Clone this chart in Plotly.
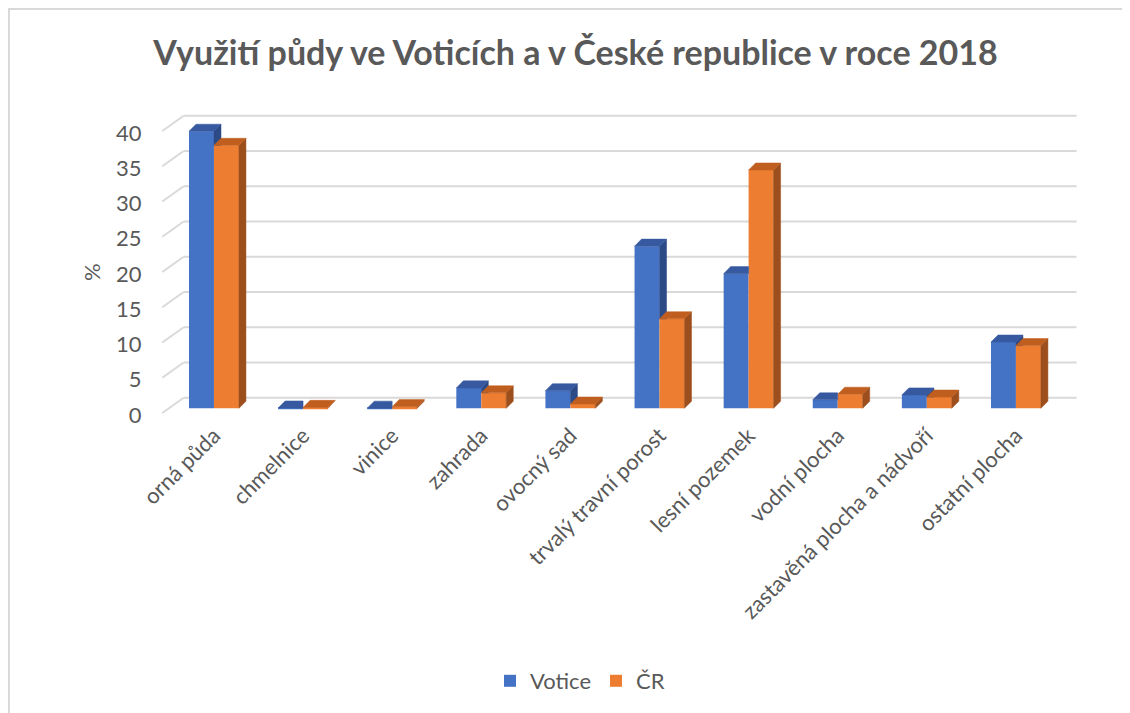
import plotly.graph_objects as go

categories = ["orná půda", "chmelnice", "vinice", "zahrada", "ovocný sad",
              "trvalý travní porost", "lesní pozemek", "vodní plocha",
              "zastavěná plocha a nádvoří", "ostatní plocha"]
votice = [39.3, 0.05, 0.02, 2.9, 2.5, 23.0, 19.1, 1.2, 1.9, 9.4]
cr = [37.3, 0.13, 0.24, 2.2, 0.6, 12.7, 33.8, 2.0, 1.6, 8.9]
series_names = ["Votice", "ČR"]
y_ticks = [0, 5, 10, 15, 20, 25, 30, 35, 40]

W, H = 1130, 713
FONT = "Lato"
TXT = "#595959"
GRID = "#D9D9D9"

# colours: front, top, side
BLUE = ("#4472C4", "#3759A0", "#2C4A86")
ORANGE = ("#ED7D31", "#C05E1F", "#9C4E1C")

# 3D projection helpers (in data units)
BAR_W = 0.28          # width of one bar (category units)
DX, DY = 0.079, 1.0   # bar depth offset
WALL_BACK = 1.5       # back-wall offset for gridlines (value units)
WALL_FRONT = -0.67    # front edge of side wall
WALL_DX_L = 0.26      # x-offset of back wall start from axis start
X0, X1 = -0.6, 9.7
Y0, Y1 = -1.3, 42.0
LABEL_SHIFT = -0.95

# pixel layout of the plotting area (figure coordinates)
PX_L, PX_R = 152.5, 1070.3
PX_B, PX_T = 409.5, 104.2

fig = go.Figure()

# front faces as bars
for name, vals, col in ((series_names[0], votice, BLUE), (series_names[1], cr, ORANGE)):
    fig.add_trace(go.Bar(x=list(range(len(categories))), y=vals, name=name,
                         marker=dict(color=col[0], line=dict(width=0)),
                         hoverinfo="skip"))


def poly(xs, ys, color):
    fig.add_trace(go.Scatter(x=xs + [xs[0]], y=ys + [ys[0]], mode="lines", fill="toself",
                             fillcolor=color, line=dict(width=0.5, color=color),
                             showlegend=False, hoverinfo="skip"))


for i, (vb, vo) in enumerate(zip(votice, cr)):
    # blue bar: x from i-BAR_W to i
    l, r = i - BAR_W, i
    if vb > vo:
        poly([r, r + DX, r + DX, r], [vo, max(vo, DY), vb + DY, vb], BLUE[2])
        poly([l, r, r + DX, l + DX], [vb, vb, vb + DY, vb + DY], BLUE[1])
    else:
        poly([l, r, r, l + DX], [vb, vb, vb + DY, vb + DY], BLUE[1])
    # orange bar: x from i to i+BAR_W
    l, r = i, i + BAR_W
    poly([r, r + DX, r + DX, r], [0, DY, vo + DY, vo], ORANGE[2])
    poly([l, r, r + DX, l + DX], [vo, vo, vo + DY, vo + DY], ORANGE[1])

# back-wall grid lines and side-wall diagonals (below the bars)
shapes = []
for v in y_ticks:
    shapes.append(dict(type="line", xref="x", yref="y", layer="below",
                       x0=X0 + 0.02, y0=v + WALL_FRONT, x1=X0 + WALL_DX_L, y1=v + WALL_BACK,
                       line=dict(color=GRID, width=2)))
    shapes.append(dict(type="line", xref="x", yref="y", layer="below",
                       x0=X0 + WALL_DX_L, y0=v + WALL_BACK, x1=X1 - 0.02, y1=v + WALL_BACK,
                       line=dict(color=GRID, width=2)))
# chart border (left and top edges are the visible ones)
shapes.append(dict(type="line", xref="paper", yref="paper", x0=1 / W, x1=1 / W,
                   y0=0, y1=1, line=dict(color=GRID, width=2), layer="below"))
shapes.append(dict(type="line", xref="paper", yref="paper", x0=0, x1=1,
                   y0=1 - 1 / H, y1=1 - 1 / H, line=dict(color=GRID, width=2), layer="below"))

fig.update_layout(
    width=W, height=H, template="none",
    paper_bgcolor="white", plot_bgcolor="rgba(0,0,0,0)",
    margin=dict(l=0, r=0, t=0, b=0, autoexpand=False),
    barmode="group", bargap=1 - 2 * BAR_W, bargroupgap=0,
    font=dict(family=FONT, color=TXT, size=22),
    title=dict(text="<b>Využití půdy ve Voticích a v České republice v roce 2018</b>",
               x=567.5 / W, y=1 - 45 / H, xanchor="center", yanchor="middle",
               xref="paper", yref="paper",
               font=dict(family=FONT, size=34, color=TXT)),
    xaxis=dict(domain=[PX_L / W, PX_R / W], range=[X0, X1], automargin=False,
               tickmode="array", tickvals=list(range(len(categories))), ticktext=categories,
               tickangle=-45, showgrid=False, zeroline=False, showline=False,
               ticks="", tickfont=dict(size=22, color=TXT, family=FONT)),
    yaxis=dict(domain=[(H - PX_B) / H, (H - PX_T) / H], range=[Y0, Y1], automargin=False,
               tickmode="array", tickvals=[v + LABEL_SHIFT for v in y_ticks],
               ticktext=[str(v) for v in y_ticks], showgrid=False, zeroline=False,
               showline=False, ticks="", ticklabelstandoff=18,
               tickfont=dict(size=22, color=TXT, family=FONT)),
    showlegend=True,
    legend=dict(orientation="h", x=572 / W, xanchor="center", y=1 - 673 / H,
                yanchor="middle", font=dict(size=22, color=TXT, family=FONT),
                itemwidth=30, bgcolor="rgba(0,0,0,0)"),
    annotations=[dict(text="%", x=83 / W, y=1 - 264 / H, xref="paper", yref="paper",
                      xanchor="center", yanchor="middle",
                      showarrow=False, textangle=-90,
                      font=dict(size=22, color=TXT, family=FONT))],
    shapes=shapes,
)

fig.write_html("out.html",
               post_script="document.documentElement.style.overflow='hidden';"
                           "document.body.style.overflow='hidden';")
